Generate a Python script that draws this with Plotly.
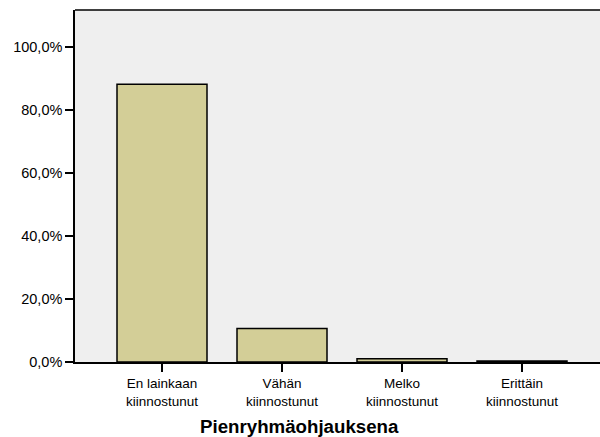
import plotly.graph_objects as go

categories = ["En lainkaan<br>kiinnostunut", "Vähän<br>kiinnostunut", "Melko<br>kiinnostunut", "Erittäin<br>kiinnostunut"]
percent = [88.2, 10.6, 1.0, 0.3]
y_ticks = [0, 20, 40, 60, 80, 100]
y_tick_labels = ["0,0%", "20,0%", "40,0%", "60,0%", "80,0%", "100,0%"]
axis_title = "Pienryhmäohjauksena"

fig = go.Figure()
fig.add_trace(go.Bar(
    x=list(range(len(categories))),
    y=percent,
    marker=dict(color="#D3CE97", line=dict(color="#000000", width=1.5)),
    width=0.75,
))

fig.update_layout(
    width=600, height=437,
    margin=dict(l=75, r=0, t=10, b=75),
    paper_bgcolor="white",
    plot_bgcolor="#EFEFEF",
    showlegend=False,
    font=dict(family="Liberation Sans, Arial, sans-serif", size=14, color="#000000"),
    xaxis=dict(
        range=[-0.725, 3.65],
        tickvals=list(range(len(categories))),
        ticktext=categories,
        ticks="outside", ticklen=8, tickwidth=1.5, tickcolor="#000000",
        showline=True, linecolor="#000000", linewidth=1.5,
        mirror=False,
        showgrid=False, zeroline=False,
        tickfont=dict(size=13.5),
    ),
    yaxis=dict(
        range=[0, 111.75],
        tickvals=y_ticks,
        ticktext=y_tick_labels,
        ticks="outside", ticklen=8, tickwidth=1.5, tickcolor="#000000",
        showline=True, linecolor="#000000", linewidth=1.5,
        mirror=False,
        showgrid=False, zeroline=False,
        tickfont=dict(size=14.5),
    ),
    shapes=[dict(
        type="line", xref="paper", yref="paper",
        x0=0, x1=1, y0=1, y1=1,
        line=dict(color="#000000", width=1.5),
    )],
    annotations=[dict(
        text="<b>" + axis_title + "</b>",
        xref="paper", yref="paper",
        x=(299 - 75) / 525, y=-(426 - 362) / 352,
        xanchor="center", yanchor="middle",
        showarrow=False,
        font=dict(size=18.7, color="#000000"),
    )],
)

fig.write_html(
    "out.html",
    config={"displayModeBar": False},
    post_script="document.body.style.margin='0';document.body.style.overflow='hidden';",
)
